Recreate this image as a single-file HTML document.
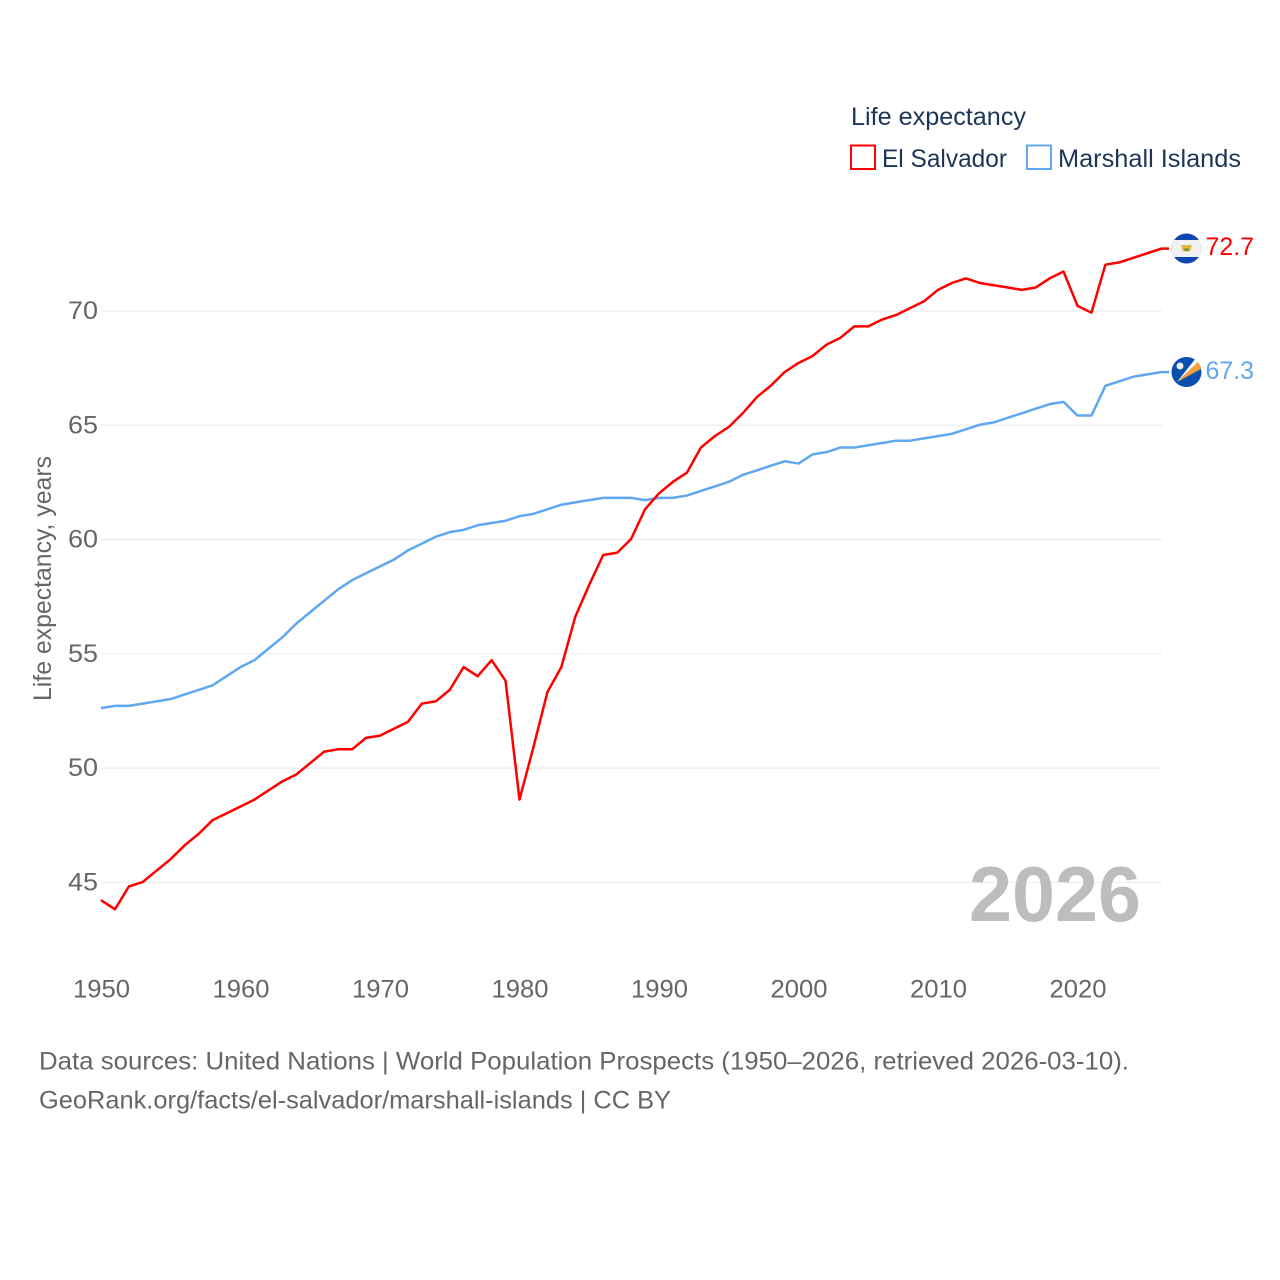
<!DOCTYPE html>
<html lang="en">
<head>
<meta charset="utf-8">
<title>Life expectancy: El Salvador and Marshall Islands</title>
<style>
html,body{margin:0;padding:0;background:#fff}
svg{display:block}
text{font-family:"Liberation Sans",sans-serif}
</style>
</head>
<body>
<svg id="chart" xmlns="http://www.w3.org/2000/svg" width="1280" height="1280" viewBox="0 0 1280 1280">
  <defs>
    <clipPath id="flag-clip-sv"><circle cx="1186.500" cy="248.500" r="15"/></clipPath>
    <clipPath id="flag-clip-mh"><circle cx="1186.500" cy="372" r="15"/></clipPath>
  </defs>
  <g id="grid"></g>
  <g id="y-ticks"></g>
  <g id="x-ticks"></g>
  <text transform="translate(51,578.5) rotate(-90)" text-anchor="middle" font-size="25" fill="#666" textLength="245" lengthAdjust="spacingAndGlyphs">Life expectancy, years</text>
  <text x="969" y="921" font-size="78" font-weight="bold" fill="#bdbdbd" textLength="172" lengthAdjust="spacingAndGlyphs">2026</text>
  <g id="series" transform="translate(0,-0.6)"></g>

  <g clip-path="url(#flag-clip-sv)">
    <rect x="1171" y="233" width="31" height="31" fill="#0f47af"/>
    <rect x="1171" y="240" width="31" height="17" fill="#f1f1f1"/>
    <path d="M1181 245h11l-2 6.500h-7z" fill="#e8b93c"/>
    <path d="M1183.500 248.500h6l-1.500 2.500h-3z" fill="#6a9a3a"/>
  </g>
  <g clip-path="url(#flag-clip-mh)">
    <rect x="1171" y="357" width="31" height="31" fill="#0a4fae"/>
    <path d="M1177 382L1199 361L1201 369Z" fill="#f5a03a"/>
    <path d="M1177 382L1196 358L1199 361Z" fill="#fff"/>
    <circle cx="1180" cy="366" r="3.500" fill="#eee"/>
  </g>
  <text x="1205.500" y="255" font-size="25" fill="#ff0000" textLength="48.500" lengthAdjust="spacingAndGlyphs">72.7</text>
  <text x="1205.500" y="379" font-size="25" fill="#5fa8f0" textLength="48.500" lengthAdjust="spacingAndGlyphs">67.3</text>

  <g>
    <text x="851" y="125" font-size="25" fill="#1d3557" textLength="175" lengthAdjust="spacingAndGlyphs">Life expectancy</text>
    <g>
      <rect x="851" y="145.500" width="24" height="23.500" fill="#fff" stroke="#ff0000" stroke-width="2"/>
      <text x="882" y="167" font-size="25" fill="#1d3557" textLength="125" lengthAdjust="spacingAndGlyphs">El Salvador</text>
    </g>
    <g>
      <rect x="1027" y="145.500" width="24" height="23.500" fill="#fff" stroke="#5fa8f0" stroke-width="2"/>
      <text x="1058" y="167" font-size="25" fill="#1d3557" textLength="183" lengthAdjust="spacingAndGlyphs">Marshall Islands</text>
    </g>
  </g>

  <text x="39" y="1069.500" font-size="25" fill="#666" textLength="1090" lengthAdjust="spacingAndGlyphs">Data sources: United Nations | World Population Prospects (1950–2026, retrieved 2026-03-10).</text>
  <text x="39" y="1108.500" font-size="25" fill="#666" textLength="632" lengthAdjust="spacingAndGlyphs">GeoRank.org/facts/el-salvador/marshall-islands | CC BY</text>
</svg>
<script>
const startYear = 1950;
const yTickValues = [45, 50, 55, 60, 65, 70];
const xTickValues = [1950, 1960, 1970, 1980, 1990, 2000, 2010, 2020];
const elSalvador = [44.2,43.8,44.8,45.0,45.5,46.0,46.6,47.1,47.7,48.0,48.3,48.6,49.0,49.4,49.7,50.2,50.7,50.8,50.8,51.3,51.4,51.7,52.0,52.8,52.9,53.4,54.4,54.0,54.7,53.8,48.6,50.9,53.3,54.4,56.6,58.0,59.3,59.4,60.0,61.3,62.0,62.5,62.9,64.0,64.5,64.9,65.5,66.2,66.7,67.3,67.7,68.0,68.5,68.8,69.3,69.3,69.6,69.8,70.1,70.4,70.9,71.2,71.4,71.2,71.1,71.0,70.9,71.0,71.4,71.7,70.2,69.9,72.0,72.1,72.3,72.5,72.7];
const marshallIslands = [52.6,52.7,52.7,52.8,52.9,53.0,53.2,53.4,53.6,54.0,54.4,54.7,55.2,55.7,56.3,56.8,57.3,57.8,58.2,58.5,58.8,59.1,59.5,59.8,60.1,60.3,60.4,60.6,60.7,60.8,61.0,61.1,61.3,61.5,61.6,61.7,61.8,61.8,61.8,61.7,61.8,61.8,61.9,62.1,62.3,62.5,62.8,63.0,63.2,63.4,63.3,63.7,63.8,64.0,64.0,64.1,64.2,64.3,64.3,64.4,64.5,64.6,64.8,65.0,65.1,65.3,65.5,65.7,65.9,66.0,65.4,65.4,66.7,66.9,67.1,67.2,67.3];

const NS = 'http://www.w3.org/2000/svg';
const xScale = function (year) { return 101 + (year - 1950) * 13.95; };
const yScale = function (v) { return 311 + (70 - v) * 22.86; };
const gridGroup = document.getElementById('grid');
const yGroup = document.getElementById('y-ticks');
const xGroup = document.getElementById('x-ticks');
const seriesGroup = document.getElementById('series');

yTickValues.forEach(function (v) {
  const line = document.createElementNS(NS, 'line');
  
  
  line.setAttribute('x1', 101);
  line.setAttribute('x2', 1162);
  line.setAttribute('y1', yScale(v));
  line.setAttribute('y2', yScale(v));
  line.setAttribute('stroke', '#ededed');
  line.setAttribute('stroke-width', '1.300');
  gridGroup.appendChild(line);
  const label = document.createElementNS(NS, 'text');
  
  
  label.setAttribute('x', 68);
  label.setAttribute('y', yScale(v) + 8);
  label.setAttribute('font-size', '25');
  label.setAttribute('fill', '#666');
  label.setAttribute('textLength', '30');
  label.setAttribute('lengthAdjust', 'spacingAndGlyphs');
  label.textContent = v;
  yGroup.appendChild(label);
});

xTickValues.forEach(function (year) {
  const label = document.createElementNS(NS, 'text');
  
  
  label.setAttribute('x', xScale(year) + 0.5);
  label.setAttribute('y', 997.5);
  label.setAttribute('text-anchor', 'middle');
  label.setAttribute('font-size', '25');
  label.setAttribute('fill', '#666');
  label.setAttribute('textLength', '57');
  label.setAttribute('lengthAdjust', 'spacingAndGlyphs');
  label.textContent = year;
  xGroup.appendChild(label);
});

function drawSeries(values, color, name) {
  const pts = values.map(function (v, i) {
    return xScale(startYear + i).toFixed(2) + ',' + yScale(v).toFixed(2);
  });
  const lastY = yScale(values[values.length - 1]).toFixed(2);
  const path = document.createElementNS(NS, 'polyline');
  
  
  path.setAttribute('points', pts.join(' ') + ' 1169,' + lastY);
  path.setAttribute('fill', 'none');
  path.setAttribute('stroke', color);
  path.setAttribute('stroke-width', '2.500');
  path.setAttribute('stroke-linejoin', 'round');
  seriesGroup.appendChild(path);
}
drawSeries(marshallIslands, '#5fa8f0', 'marshall-islands');
drawSeries(elSalvador, '#ff0000', 'el-salvador');
</script>
</body>
</html>
